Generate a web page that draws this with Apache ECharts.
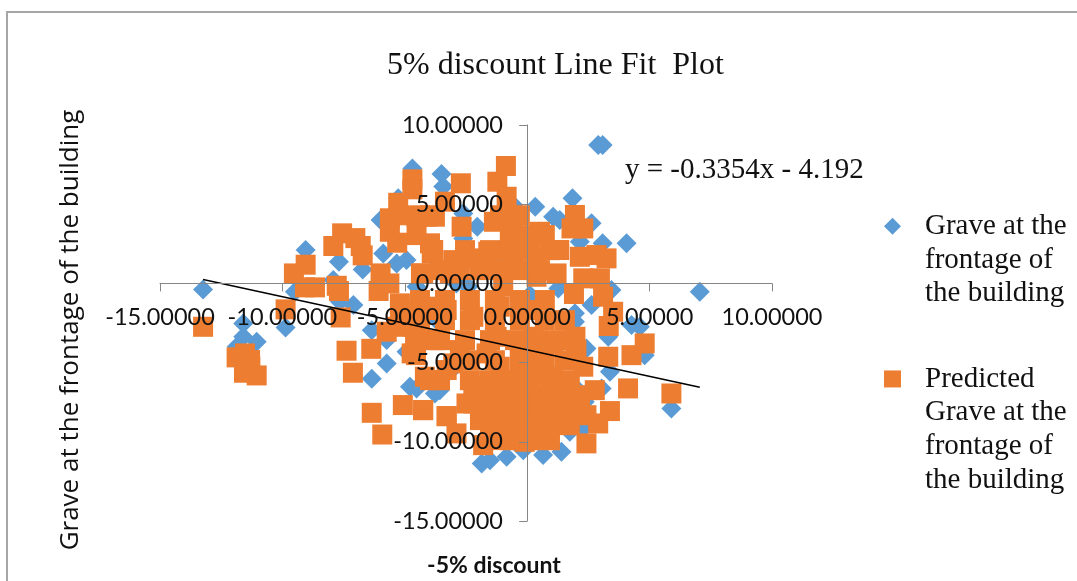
<!DOCTYPE html>
<html>
<head>
<meta charset="utf-8">
<style>html,body{margin:0;padding:0;background:#fff}#c{width:1077px;height:581px}</style>
<script src="https://cdn.jsdelivr.net/npm/echarts@6/dist/echarts.min.js"></script>
</head>
<body>
<div id="c"></div>
<script>
const titleText = '5% discount Line Fit  Plot';
const equationText = 'y = -0.3354x - 4.192';
const xAxisName = '-5% discount';
const yAxisName = 'Grave at the frontage of the building';
const actualName = 'Grave at the\nfrontage of\nthe building';
const predictedName = 'Predicted\nGrave at the\nfrontage of\nthe building';

const actualPoints = [
[-13.24,-0.38],[-11.6,-2.53],[-11.6,-3.37],[-11.87,-4.0],[-11.05,-3.68],[-9.87,-2.78],[-9.05,2.11],[-9.49,-0.53],
[-7.69,1.37],[-6.72,0.88],[-7.92,0.21],[-7.1,-1.37],[-7.65,-1.16],[-6.35,-2.95],[-5.74,-5.05],[-6.35,-6.02],
[-5.99,4.0],[-5.88,1.89],[-5.33,1.26],[-4.93,1.47],[-4.69,7.26],[-3.5,6.91],[-3.43,6.11],[-5.27,5.37],
[-4.93,-4.32],[-4.79,-6.53],[-4.52,-6.63],[-3.77,-6.95],[-5.74,-3.58],[-3.84,0.84],[-4.52,-0.21],[-3.7,-2.32],
[3.08,8.74],[2.9,8.74],[1.85,5.37],[0.33,4.84],[1.06,4.21],[1.33,4.0],[2.63,3.79],[-0.57,4.95],
[-2.04,3.58],[-2.61,2.84],[4.06,2.53],[3.08,2.53],[2.15,2.63],[-0.78,1.37],[-2.61,4.42],[3.44,-0.42],
[1.27,-0.32],[2.63,-1.37],[1.95,-1.89],[1.95,-2.42],[4.26,-2.63],[4.6,-2.74],[3.31,-3.37],[2.42,-4.11],
[4.8,-4.53],[3.38,-5.58],[5.89,-7.89],[3.04,-6.63],[2.01,-6.63],[2.29,-9.16],[2.35,-7.47],[1.4,-10.63],
[0.65,-10.84],[-0.16,-10.53],[-0.84,-10.95],[-1.52,-11.16],[-1.86,-11.37],[7.05,-0.53],[-3.57,-6.74],[-2.89,0],
[-2.41,-0.21],[-3.09,-5.47],[0.11,-0.74],[1.74,-9.37]
];

const predictedPoints = [
[-13.24,-2.74],[-11.87,-4.67],[-11.53,-4.42],[-11.32,-4.84],[-11.57,-5.64],[-11.05,-5.81],[-11.31,-5.26],[-9.87,-1.64],
[-9.53,0.63],[-9.05,1.18],[-9.08,-0.25],[-8.67,-0.25],[-7.78,-0.15],[-7.69,-0.48],[-7.62,-2.15],[-7.92,2.36],
[-7.56,3.16],[-7.02,2.86],[-6.80,2.36],[-6.72,1.77],[-7.38,-4.25],[-7.12,-5.64],[-6.37,-4.13],[-6.35,-8.17],
[-5.92,-9.54],[-5.08,-7.68],[-4.25,-8.00],[-3.29,-8.38],[-5.99,0.63],[-5.63,0],[-6.07,-0.48],[-5.74,-3.05],
[-5.33,-2.74],[-4.69,6.57],[-4.69,5.94],[-5.27,5.09],[-5.61,4.11],[-5.61,3.26],[-5.31,2.57],[-4.52,4.21],
[-4.11,4.21],[-4.52,3.05],[-3.97,2.53],[-3.90,1.89],[-4.34,0.63],[-5.2,-1.26],[-4.65,-1.68],[-4.11,-1.47],
[-4.65,-2.74],[-3.84,-3.58],[-4.72,-4.42],[-4.54,-4.53],[-4.18,-5.89],[-3.56,-6.11],[-3.70,-1.68],
[-0.87,7.41],[-1.22,6.42],[-0.84,5.47],[-2.71,6.32],[-3.36,5.16],[-3.77,4.21],[-2.68,3.58],[-1.36,3.89],
[-0.64,3.68],[0.52,3.26],[-0.44,2.53],[-0.57,2.0],[0.38,1.68],[0.38,0.42],[1.20,0.63],[1.31,2.11],
[1.95,4.32],[1.81,3.47],[2.29,3.47],[2.15,1.68],[2.83,1.79],[3.24,1.58],[2.29,0.32],[2.97,0.32],
[1.91,-0.67],[3.10,-0.84],[3.51,-1.79],[3.33,-2.69],[1.97,-3.37],[2.01,-4.21],[2.29,-5.26],[3.31,-4.63],
[4.26,-4.53],[4.80,-3.79],[4.12,-6.63],[5.89,-6.95],[3.38,-8.06],[2.90,-8.84],[2.42,-10.1],[2.76,-6.74],
[2.42,-8.32],[-1.59,2.0],[-1.59,1.05],[-3.02,1.47],[-2.34,1.58],[-3.16,0.63],[-3.84,2.11],[-4.25,0.63],
[-0.98,-0.21],[0.11,-1.68],[-1.12,-1.47],[-2.2,-2.11],[-3.29,-1.68],[-4.11,-1.68],[-3.70,-3.58],[-2.75,-4.21],
[-1.25,-3.37],[1.06,-3.79],[0.24,-3.37],[-3.29,-5.47],[-3.97,-6.11],[-4.25,-8.0],[-3.29,-8.38],[-2.89,-9.47],
[-1.80,-10.21],[-1.18,-9.89],[-0.10,-10.0],[0.79,-9.79],[-2.2,-6.53],[-1.66,-7.16],[-1.12,-6.32],[-0.30,-5.47],
[0.38,-5.68],[1.06,-5.89],[-0.03,-6.74],[0.79,-7.16],[1.47,-6.95],[-2.2,-7.58],[-1.39,-8.0],[-0.71,-7.58],
[0.11,-8.0],[0.93,-8.42],[1.61,-8.0],[-1.93,-8.63],[-0.98,-9.05],[-0.03,-9.05],[0.65,-9.26],[1.47,-8.63],
[-2.48,-7.58],[-3.02,-5.05],[-1.66,-4.42],[-0.30,-4.21],[0.38,-4.63],[-1.12,-5.26],
[-4.38,-1.05],[-3.36,-1.05],[-2.34,-1.05],[-1.32,-1.05],[-0.3,-1.05],[0.72,-1.05],
[-5.2,-2.32],[-4.38,-2.32],[-3.36,-2.32],[-2.34,-2.32],[-1.32,-2.32],[-0.3,-2.32],[0.72,-2.32],[1.54,-2.32],
[-4.58,-3.58],[-3.56,-3.58],[-2.54,-3.58],[-1.52,-3.58],[-0.5,-3.58],[0.52,-3.58],[1.34,-3.58],
[-2.34,-4.85],[-1.32,-4.85],[-0.3,-4.85],[0.72,-4.85],[1.54,-4.85],
[-2.34,-6.11],[-1.52,-6.11],[-0.71,-6.11],[0.11,-6.11],[0.93,-6.11],[1.74,-6.11],
[-1.93,-7.06],[-1.11,-7.06],[-0.3,-7.06],[0.52,-7.06],[1.34,-7.06],[2.15,-7.06],
[-1.93,-8.0],[-1.11,-8.0],[-0.3,-8.0],[0.52,-8.0],[1.34,-8.0],[2.15,-8.0],
[-1.52,-8.95],[-0.71,-8.95],[0.11,-8.95],[0.93,-8.95],[1.74,-8.95],
[-0.71,-9.9],[0.11,-9.9],[0.93,-9.9],
[-3.56,0.84],[-2.75,0.84],[-1.93,0.84],[-1.11,0.84],[-0.3,0.84],[0.52,0.84],
[-2.54,2.1],[-1.52,2.1],[-0.71,2.1],[0.11,2.1],[0.93,2.1],
[-0.71,3.05],[0.11,3.05],[0.72,3.05],
[-5.2,4.3],[-4.38,4.3],[-3.97,4.3],[-1.11,4.3],[-0.3,4.3]
];

const trendPoints = [[-13.24,0.25],[7.05,-6.56]];

const fmt = v => v.toFixed(5);
const axisColor = '#868686';
const labelFont = 'Lato';
const serif = '"Liberation Serif"';

const legendFormatter = name => {
  const lines = name.split('\n');
  const blanks = new Array(lines.length - 1).fill('{t| }');
  return blanks.concat(lines.map(l => '{t|' + l + '}')).join('\n');
};
const legendText = {
  fontFamily:serif,fontSize:29,lineHeight:33.7,color:'#111',
  rich:{t:{fontFamily:serif,fontSize:29,lineHeight:33.7,color:'#111',padding:[0,0,0,19]}}
};

const chart = echarts.init(document.getElementById('c'), null, {renderer:'canvas'});
chart.setOption({
  animation:false,
  backgroundColor:'#fff',
  title:[
    {text:titleText,left:387,top:50,padding:0,textStyle:{fontFamily:serif,fontSize:32,fontWeight:'normal',color:'#111'}},
    {text:equationText,left:625,top:156,padding:0,textStyle:{fontFamily:serif,fontSize:29,fontWeight:'normal',color:'#111'}}
  ],
  grid:{left:160,right:305,top:125,bottom:60,containLabel:false,outerBoundsMode:'none'},
  xAxis:{
    type:'value',min:-15,max:10,interval:5,z:5,
    name:xAxisName,nameLocation:'middle',nameGap:33,
    nameTextStyle:{fontFamily:labelFont,fontSize:23,fontWeight:'bold',color:'#111',padding:[0,0,0,56]},
    splitLine:{show:false},
    axisLine:{onZero:true,lineStyle:{color:axisColor,width:1}},
    axisTick:{length:8,lineStyle:{color:axisColor}},
    axisLabel:{formatter:fmt,fontFamily:labelFont,fontSize:23.5,color:'#111',margin:-216,hideOverlap:false}
  },
  yAxis:{
    type:'value',min:-15,max:10,interval:5,z:5,
    name:yAxisName,nameLocation:'middle',nameGap:76,nameRotate:90,
    nameTextStyle:{fontFamily:'"Open Sans"',fontSize:26,color:'#111',padding:[0,14,0,0]},
    splitLine:{show:false},
    axisLine:{onZero:true,lineStyle:{color:axisColor,width:1}},
    axisTick:{length:8,lineStyle:{color:axisColor}},
    axisLabel:{formatter:fmt,fontFamily:labelFont,fontSize:23.5,color:'#111',margin:-343,hideOverlap:false}
  },
  legend:[
    {data:[{name:actualName,icon:'diamond'}],formatter:legendFormatter,left:884,top:142,orient:'vertical',itemWidth:17,itemHeight:17,itemGap:0,selectedMode:false,textStyle:legendText,padding:0},
    {data:[{name:predictedName,icon:'rect'}],formatter:legendFormatter,left:884,top:261,orient:'vertical',itemWidth:17,itemHeight:17,itemGap:0,selectedMode:false,textStyle:legendText,padding:0}
  ],
  graphic:[{type:'rect',silent:true,z:-1,shape:{x:7,y:12,width:1300,height:800},style:{fill:'none',stroke:'#a6a6a6',lineWidth:2}}],
  series:[
    {name:actualName,type:'scatter',data:actualPoints,symbol:'diamond',symbolSize:20,itemStyle:{color:'#5B9BD5',opacity:1},z:2,clip:false},
    {name:predictedName,type:'scatter',data:predictedPoints,symbol:'rect',symbolSize:20,itemStyle:{color:'#ED7D31',opacity:1},z:3,clip:false},
    {name:'Linear',type:'line',data:trendPoints,showSymbol:false,symbol:'none',lineStyle:{color:'#000',width:1.5},z:4,clip:false}
  ]
});
</script>
</body>
</html>
